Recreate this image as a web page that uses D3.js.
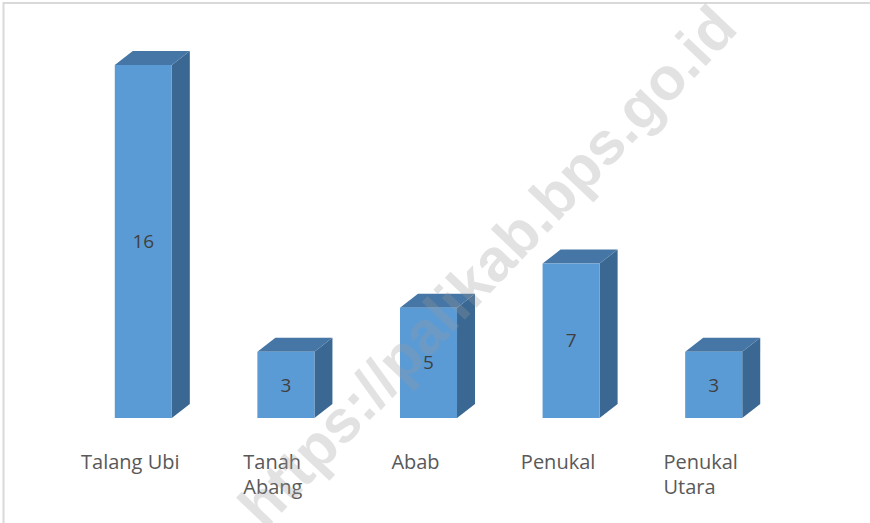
<!DOCTYPE html>
<html>
<head>
<meta charset="utf-8">
<script src="https://cdn.jsdelivr.net/npm/d3@7"></script>
<style>
	body { margin: 0; background: #fff; }
	svg { display: block; }
</style>
</head>
<body>
<svg></svg>
<script>
const svgWidth = 870;
const svgHeight = 523;

// data
const categories = [["Talang Ubi"], ["Tanah", "Abang"], ["Abab"], ["Penukal"], ["Penukal", "Utara"]];
const values = [16, 3, 5, 7, 3];
const yMax = 16;

const depthX = 18;
const depthY = 14;
const fontFamily = "'Open Sans', 'Liberation Sans', sans-serif";

const svg = d3.select("svg")
				.attr("width", svgWidth)
				.attr("height", svgHeight);

// chart frame
svg.append("rect")
	.attr("x", 3.5)
	.attr("y", 3)
	.attr("width", svgWidth + 10)
	.attr("height", svgHeight + 10)
	.attr("fill", "none")
	.attr("stroke", "#d9d9d9")
	.attr("stroke-width", 2);

const names = categories.map(d => d.join(" "));

let xScale = d3.scaleBand()
				.domain(names)
				.range([72, 785])
				.paddingInner(0.6)
				.paddingOuter(0.3);

let yScale = d3.scaleLinear()
				.domain([0, yMax])
				.range([418, 65]);

let bars = svg.selectAll(".bar")
		.data(values)
		.enter()
		.append("g")
		.classed("bar", true);

// side face
bars.append("path")
		.attr("d", (d, i) => {
			let x1 = xScale(names[i]) + xScale.bandwidth();
			let y0 = yScale(0), y1 = yScale(d);
			return `M${x1},${y1} L${x1 + depthX},${y1 - depthY} L${x1 + depthX},${y0 - depthY} L${x1},${y0} Z`;
		})
		.attr("fill", "#3b6893");

// top face
bars.append("path")
		.attr("d", (d, i) => {
			let x0 = xScale(names[i]), x1 = x0 + xScale.bandwidth();
			let y1 = yScale(d);
			return `M${x0},${y1} L${x0 + depthX},${y1 - depthY} L${x1 + depthX},${y1 - depthY} L${x1},${y1} Z`;
		})
		.attr("fill", "#4676a5");

// front face
bars.append("rect")
		.attr("x", (d, i) => xScale(names[i]))
		.attr("y", d => yScale(d))
		.attr("width", xScale.bandwidth())
		.attr("height", d => yScale(0) - yScale(d))
		.attr("fill", "#5b9bd5");

// value labels
bars.append("text")
		.text(d => d)
		.attr("x", (d, i) => xScale(names[i]) + xScale.bandwidth() / 2)
		.attr("y", d => (yScale(d) + yScale(0)) / 2)
		.attr("dy", "0.35em")
		.attr("text-anchor", "middle")
		.attr("font-family", fontFamily)
		.attr("font-size", "19px")
		.attr("fill", "#404040");

// category labels (wrapped lines are left aligned, block centred)
let labels = svg.selectAll(".cat")
		.data(categories)
		.enter()
		.append("text")
		.classed("cat", true)
		.attr("y", 469)
		.attr("font-family", fontFamily)
		.attr("font-size", "20px")
		.attr("fill", "#595959");

labels.each(function (d, i) {
	let t = d3.select(this);
	let cx = xScale(names[i]) + xScale.bandwidth() / 2 - 13;
	let spans = d.map((line, j) => t.append("tspan")
			.text(line)
			.attr("dy", j === 0 ? 0 : 25));
	let maxW = d3.max(spans, s => s.node().getComputedTextLength());
	spans.forEach(s => s.attr("x", cx - maxW / 2));
});

// watermark
svg.append("text")
	.text("https://palikab.bps.go.id")
	.attr("transform", "translate(487,266) rotate(-46.5)")
	.attr("text-anchor", "middle")
	.attr("dy", "0.35em")
	.attr("font-family", "'Liberation Sans', Arial, sans-serif")
	.attr("font-weight", "bold")
	.attr("font-size", "60px")
	.attr("fill", "#9a9a9a")
	.attr("opacity", 0.28);
</script>
</body>
</html>
